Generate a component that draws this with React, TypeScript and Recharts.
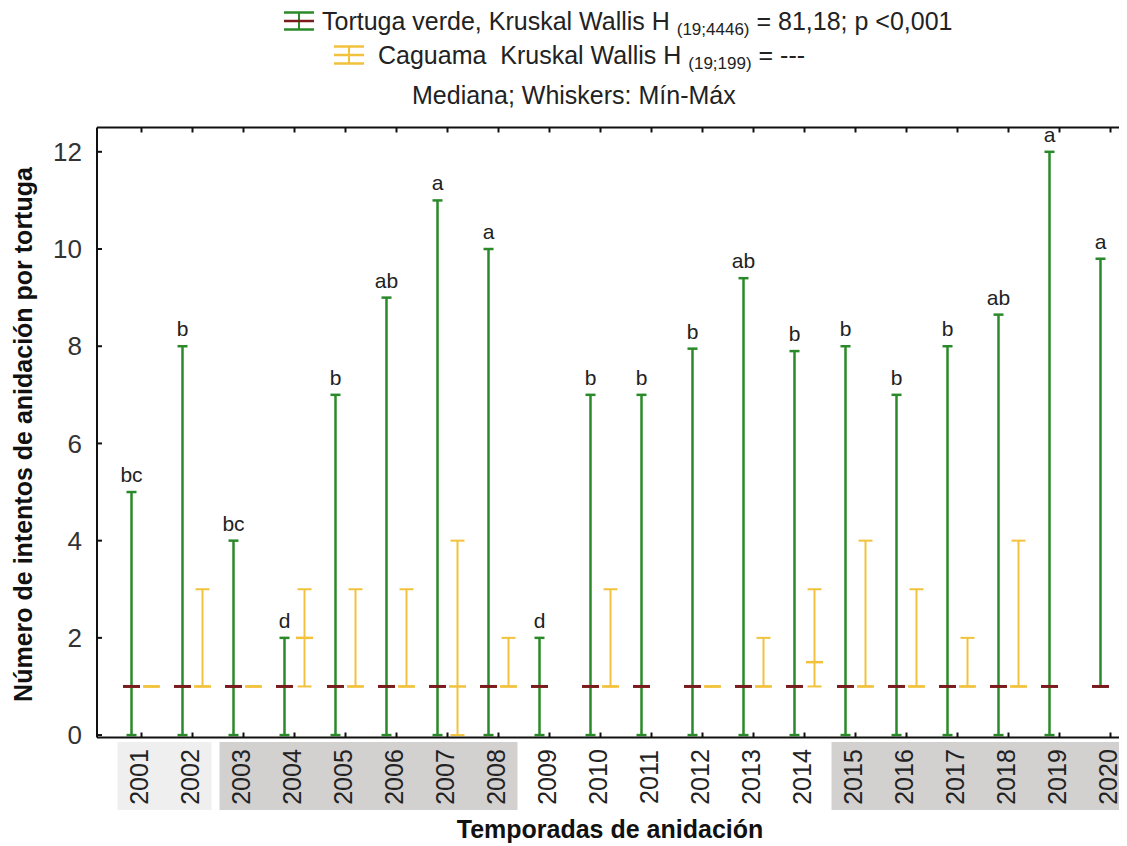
import { Bar, ComposedChart, ErrorBar, Label, LabelList, Scatter, XAxis, YAxis } from "recharts";

const years = ["2001", "2002", "2003", "2004", "2005", "2006", "2007", "2008", "2009", "2010",
  "2011", "2012", "2013", "2014", "2015", "2016", "2017", "2018", "2019", "2020"];

// Tortuga verde
const verdeMin = [0, 0, 0, 0, 0, 0, 0, 0, 0, 0, 0, 0, 0, 0, 0, 0, 0, 0, 0, 1];
const verdeMed = [1, 1, 1, 1, 1, 1, 1, 1, 1, 1, 1, 1, 1, 1, 1, 1, 1, 1, 1, 1];
const verdeMax = [5, 8, 4, 2, 7, 9, 11, 10, 2, 7, 7, 7.95, 9.4, 7.9, 8, 7, 8, 8.65, 12, 9.8];
const letters = ["bc", "b", "bc", "d", "b", "ab", "a", "a", "d", "b", "b", "b", "ab", "b", "b", "b", "b", "ab", "a", "a"];

// Caguama
const cagMin = [1, 1, 1, 1, 1, 1, 0, 1, null, 1, null, 1, 1, 1, 1, 1, 1, 1, null, null];
const cagMed = [1, 1, 1, 2, 1, 1, 1, 1, null, 1, null, 1, 1, 1.5, 1, 1, 1, 1, null, null];
const cagMax = [1, 3, 1, 3, 3, 3, 4, 2, null, 3, null, 1, 2, 3, 4, 3, 2, 4, null, null];

// fondo de las etiquetas del eje x
const shading = ["light", "light", "dark", "dark", "dark", "dark", "dark", "dark", "", "",
  "", "", "", "", "dark", "dark", "dark", "dark", "dark", "dark"];

const yTicks = [0, 2, 4, 6, 8, 10, 12];

const GREEN = "#2a8a2a";
const RED = "#7a1c1c";
const YELLOW = "#f2c23c";
const FONT = "'Liberation Sans', Arial, sans-serif";

const W = 1128;
const H = 838;
const Y_AXIS_W = 89;
const PAD_LEFT = 19;
const BAND = (W - Y_AXIS_W - PAD_LEFT) / years.length;
const BAR_SIZE = 17;
const BAR_GAP = 3;

const data = years.map((year, i) => ({
  year,
  vMed: verdeMed[i],
  vErr: [verdeMed[i] - verdeMin[i], verdeMax[i] - verdeMed[i]],
  vMax: verdeMax[i],
  letter: letters[i],
  cMed: cagMed[i],
  cErr: cagMed[i] == null ? null : [cagMed[i]! - cagMin[i]!, cagMax[i]! - cagMed[i]!],
}));

const Empty = () => <g />;

function medianDash(color: string, width: number) {
  return (props: any) => {
    const vb = props.viewBox || props;
    const { x, y, width: w } = vb;
    if (props.value == null || x == null || y == null) return null;
    return <line x1={x} x2={x + w} y1={y} y2={y} stroke={color} strokeWidth={width} />;
  };
}

const LetterMark = (props: any) => {
  const { cx, cy, payload } = props;
  if (cx == null || cy == null) return null;
  return (
    <text x={cx - (BAR_SIZE + BAR_GAP) / 2} y={cy - 10} textAnchor="middle" fontSize={21} fill="#222" fontFamily={FONT}>
      {payload.letter}
    </text>
  );
};

const YearTick = (props: any) => {
  const { x, y, payload, index } = props;
  const shade = shading[index];
  let left = x - BAND / 2;
  let right = x + BAND / 2;
  if (shading[index - 1] !== shade) left = x - 24;
  if (shading[index + 1] !== shade) right = x + 19;
  return (
    <g>
      {shade ? (
        <rect x={left} y={y} width={right - left} height={68} fill={shade === "light" ? "#efefef" : "#d3d0d0"} />
      ) : null}
      <text
        transform={`translate(${x - 3},${y + 35}) rotate(-90)`}
        textAnchor="middle"
        dominantBaseline="central"
        fontSize={25}
        fill="#222"
        fontFamily={FONT}
      >
        {payload.value}
      </text>
    </g>
  );
};

function LegendIcon({ color, mid }: { color: string; mid: string }) {
  return (
    <svg width={32} height={20} style={{ display: "block" }}>
      <line x1={16} x2={16} y1={1} y2={19} stroke={color} strokeWidth={2} />
      <line x1={1} x2={31} y1={1.5} y2={1.5} stroke={color} strokeWidth={2.5} />
      <line x1={1} x2={31} y1={10} y2={10} stroke={mid} strokeWidth={2.5} />
      <line x1={1} x2={31} y1={18.5} y2={18.5} stroke={color} strokeWidth={2.5} />
    </svg>
  );
}

const legendText: React.CSSProperties = {
  position: "absolute",
  whiteSpace: "nowrap",
  fontSize: 25,
  color: "#222",
  lineHeight: "28px",
};

const subText: React.CSSProperties = { fontSize: 17, verticalAlign: -5 };

export default function App() {
  return (
    <div style={{ position: "relative", width: 1119, height: 838, overflow: "hidden", fontFamily: FONT }}>
      <div style={{ position: "absolute", left: 275, top: 3 }}>
        <LegendIcon color={GREEN} mid={RED} />
      </div>
      <div style={{ ...legendText, left: 314, top: -1 }}>
        Tortuga verde, Kruskal Wallis H <span style={subText}>(19;4446)</span> = 81,18; p &lt;0,001
      </div>
      <div style={{ ...legendText, left: 325, top: 37 }}>
        <LegendIcon color={YELLOW} mid={YELLOW} />
      </div>
      <div style={{ ...legendText, left: 370, top: 33 }}>
        Caguama&nbsp; Kruskal Wallis H <span style={subText}>(19;199)</span> = ---
      </div>
      <div style={{ ...legendText, left: 404, top: 73 }}>Mediana; Whiskers: Mín-Máx</div>

      <ComposedChart
        width={W}
        height={H}
        data={data}
        barGap={BAR_GAP}
        margin={{ top: 118.5, right: 0, bottom: 0, left: 0 }}
        style={{ position: "absolute", left: 0, top: 0 }}
      >
        <XAxis
          xAxisId="top"
          orientation="top"
          dataKey="year"
          height={1}
          padding={{ left: PAD_LEFT, right: 0 }}
          tick={<Empty />}
          tickSize={-5}
          interval={0}
          axisLine={{ stroke: "#111", strokeWidth: 2 }}
          tickLine={{ stroke: "#111", strokeWidth: 2 }}
        />
        <XAxis
          dataKey="year"
          height={108.5}
          padding={{ left: PAD_LEFT, right: 0 }}
          tickSize={-5}
          tickMargin={9.5}
          interval={0}
          tick={<YearTick />}
          axisLine={{ stroke: "#111", strokeWidth: 2 }}
          tickLine={{ stroke: "#111", strokeWidth: 2 }}
        >
          <Label
            content={(p: any) => {
              const vb = p.viewBox;
              return (
                <text x={610 - 8} y={vb.y + 100} textAnchor="middle" fontSize={25} fontWeight="bold" fill="#111" fontFamily={FONT}>
                  Temporadas de anidación
                </text>
              );
            }}
          />
        </XAxis>
        <YAxis
          width={Y_AXIS_W}
          domain={[-0.05, 12.5]}
          ticks={yTicks}
          tickSize={-5}
          tickMargin={20}
          allowDataOverflow
          tick={{ fontSize: 26, fill: "#333", fontFamily: FONT }}
          axisLine={{ stroke: "#111", strokeWidth: 2 }}
          tickLine={{ stroke: "#111", strokeWidth: 2 }}
        >
          <Label
            content={(p: any) => {
              const vb = p.viewBox;
              const cx = 15;
              const cy = vb.y + vb.height / 2 + 2;
              return (
                <text
                  transform={`translate(${cx},${cy}) rotate(-90)`}
                  textAnchor="middle"
                  dominantBaseline="central"
                  fontSize={25}
                  fontWeight="bold"
                  fill="#111"
                  fontFamily={FONT}
                >
                  Número de intentos de anidación por tortuga
                </text>
              );
            }}
          />
        </YAxis>

        <Bar dataKey="vMed" barSize={BAR_SIZE} shape={<Empty />} isAnimationActive={false}>
          <ErrorBar dataKey="vErr" direction="y" width={5} stroke={GREEN} strokeWidth={2.5} />
          <LabelList dataKey="vMed" content={medianDash(RED, 3)} />
        </Bar>
        <Bar dataKey="cMed" barSize={BAR_SIZE} shape={<Empty />} isAnimationActive={false}>
          <ErrorBar dataKey="cErr" direction="y" width={7} stroke={YELLOW} strokeWidth={2} />
          <LabelList dataKey="cMed" content={medianDash(YELLOW, 2.5)} />
        </Bar>
        <Scatter dataKey="vMax" shape={<LetterMark />} isAnimationActive={false} />
      </ComposedChart>
    </div>
  );
}
